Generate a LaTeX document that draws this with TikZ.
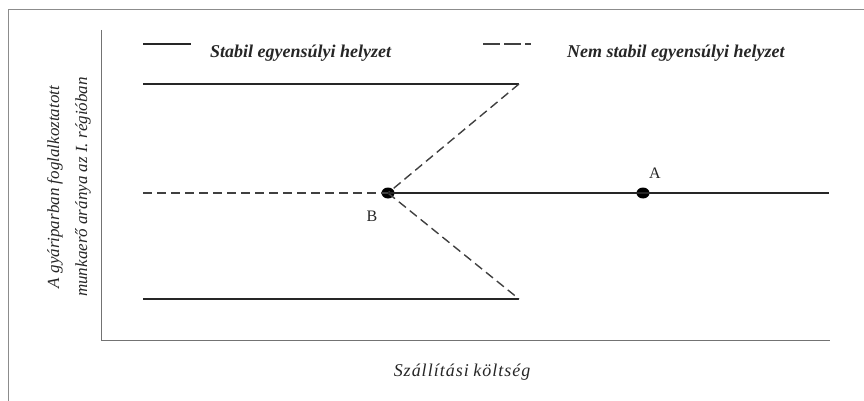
\documentclass[tikz,border=0pt]{standalone}
\usepackage{fontspec}
\usetikzlibrary{shapes.geometric}
\setmainfont{Liberation Serif}
\begin{document}
\begin{tikzpicture}[x=1pt,y=-1pt,
  stab/.style={line width=1.8pt,draw=black!85},
  unstab/.style={line width=1.4pt,draw=black!75,dash pattern=on 9pt off 5pt},
  frameline/.style={line width=0.8pt,draw=black!45},
  dotpt/.style={ellipse,fill=black,inner sep=0pt,minimum width=13pt,minimum height=11pt},
  lbl/.style={font=\fontsize{18}{20}\selectfont\bfseries\itshape,text=black!85},
  ptlbl/.style={font=\fontsize{16}{18}\selectfont,text=black!85}]
\useasboundingbox (0,0) rectangle (864,401);
% outer frame
\coordinate (fTL) at (8,9);
\coordinate (fTR) at (864,9);
\coordinate (fBL) at (8,401);
\draw[frameline] (fBL) -- (fTL) -- (fTR);
% axes
\coordinate (aT) at (101,30);
\coordinate (aO) at (101,340);
\coordinate (aR) at (830,340);
\draw[frameline,draw=black!55] (aT) -- (aO) -- (aR);
% legend
\coordinate (l1a) at (143,44); \coordinate (l1b) at (191,44);
\coordinate (l2a) at (483,44); \coordinate (l2b) at (531,44);
\draw[stab] (l1a) -- (l1b);
\draw[unstab,dash pattern=on 17pt off 4pt] (l2a) -- (l2b);
\node[lbl,anchor=base west,inner sep=0pt] (leg1) at (210,58) {Stabil egyensúlyi helyzet};
\node[lbl,anchor=base west,inner sep=0pt] (leg2) at (567,58) {Nem stabil egyensúlyi helyzet};
% curves
\coordinate (t0) at (143,84); \coordinate (t1) at (519,84);
\coordinate (b0) at (143,299); \coordinate (b1) at (519,299);
\coordinate (m0) at (143,193); \coordinate (mE) at (829,193);
\node[dotpt] (B) at (388,193) {};
\node[dotpt] (A) at (643,193) {};
\draw[stab] (t0) -- (t1);
\draw[stab] (b0) -- (b1);
\draw[unstab] (t1) -- (B.center);
\draw[unstab] (B.center) -- (b1);
\draw[unstab] (m0) -- (B.center);
\draw[stab] (B.center) -- (A.center) -- (mE);
\node[ptlbl] (Alab) at (655,173) {A};
\node[ptlbl] (Blab) at (372,216) {B};
% axis labels
\node[lbl,rotate=90,align=center,font=\fontsize{17}{28}\selectfont\itshape] (ylab) at (69,187) {A gyáriparban foglalkoztatott\\munkaerő aránya az I. régióban};
\node[lbl,font=\fontsize{18}{20}\selectfont\itshape] (xlab) at (462,372) {S\kern1ptz\kern1ptá\kern1ptl\kern1ptl\kern1ptí\kern1ptt\kern1ptá\kern1pts\kern1pti\ k\kern1ptö\kern1ptl\kern1ptt\kern1pts\kern1pté\kern1ptg};
\end{tikzpicture}
\end{document}
